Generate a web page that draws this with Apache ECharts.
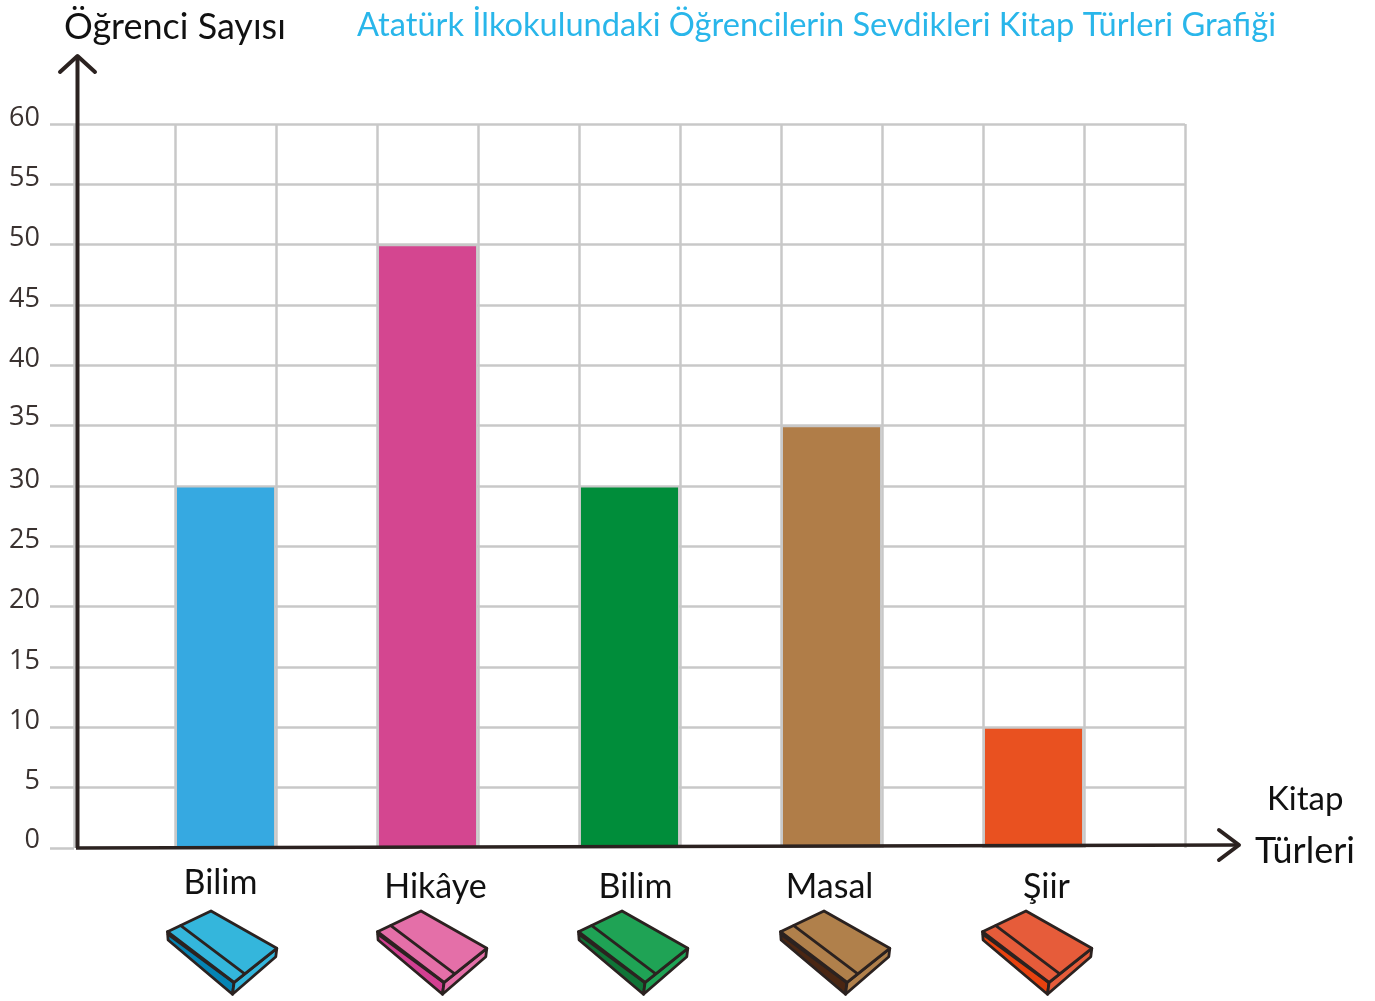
<!DOCTYPE html>
<html><head><meta charset="utf-8">
<style>html,body{margin:0;padding:0;background:#fff}#c{width:1375px;height:1001px}</style>
<script src="https://cdn.jsdelivr.net/npm/echarts@6/dist/echarts.min.js"></script>
</head><body><div id="c"></div>
<script>
const chartTitle = 'Atatürk İlkokulundaki Öğrencilerin Sevdikleri Kitap Türleri Grafiği';
const yName = 'Öğrenci Sayısı';
const xNameLines = ['Kitap', 'Türleri'];
const categories = ['', 'Bilim', '', 'Hikâye', '', 'Bilim', '', 'Masal', '', 'Şiir', ''];
const values = [null, 30, null, 50, null, 30, null, 35, null, 10, null];
const barColors = [null, '#36a9e1', null, '#d44690', null, '#008d3a', null, '#b07d48', null, '#e95120', null];
const coverColors = [null, '#34b6dc', null, '#e46fa8', null, '#1fa355', null, '#b0804b', null, '#e65c3a', null];
const spineColors = [null, '#0584b4', null, '#d33f92', null, '#0f7537', null, '#4a2613', null, '#e8420f', null];

// layout only
const labelShift = [null, [-5, 0], null, [8, 2], null, [6, 2], null, [-2, 2], null, [13, 2], null];
const bookShift = [null, -58, null, -50, null, -51, null, -51, null, -51, null];
const hand = 'Lato,"Liberation Sans",sans-serif';
const ink = '#2b2220', grid = '#c8c8c8';

const chart = echarts.init(document.getElementById('c'), null, {renderer: 'canvas'});

function P(a, ox, oy) { return a.map(p => [p[0] + ox, p[1] + oy]); }
function renderBook(params, api) {
  const i = api.value(0);
  const o = api.coord([i, 0]);
  const ox = o[0] + bookShift[i], oy = o[1] + 63;
  const ln = {stroke: ink, lineWidth: 2.8, lineJoin: 'round', lineCap: 'round'};
  const poly = (pts, fill) => ({type: 'polygon', shape: {points: P(pts, ox, oy)}, style: Object.assign({fill}, ln)});
  const line = (a, b) => ({type: 'line', shape: {x1: a[0]+ox, y1: a[1]+oy, x2: b[0]+ox, y2: b[1]+oy}, style: Object.assign({fill: null}, ln)});
  return {type: 'group', children: [
    poly([[0,20.7],[0.6,29],[65,83.3],[66.6,71.3]], spineColors[i]),
    poly([[66.6,71.3],[65,83.3],[108.3,45.7],[109.3,37.3]], coverColors[i]),
    poly([[43.5,0],[0,20.7],[66.6,71.3],[109.3,37.3]], coverColors[i]),
    line([13.3,14.7],[76.6,62.3]),
    line([0.6,23.3],[66,71.3])
  ]};
}

const bookData = categories.map((c, i) => c ? [i] : null).filter(Boolean);
const handStyle = (color, size) => ({fontFamily: hand, fontSize: size, fontWeight: 'normal', color});

chart.setOption({
  animation: false,
  backgroundColor: '#fff',
  title: [
    {text: chartTitle, left: 357, top: 9, padding: 0, textStyle: handStyle('#29b6ea', 32.6)},
    {text: yName, left: 64, top: 9, padding: 0, textStyle: handStyle('#111', 36)},
    {text: xNameLines[0], left: 1267, top: 783, padding: 0, textStyle: handStyle('#111', 33)},
    {text: xNameLines[1], left: 1255, top: 833, padding: 0, textStyle: handStyle('#111', 36)}
  ],
  grid: {left: 74, top: 124, width: 1111, height: 724, containLabel: false},
  xAxis: {
    type: 'category',
    data: categories.map((c, i) => c ? {value: c, textStyle: {padding: [labelShift[i][1] * 2, labelShift[i][0] < 0 ? -2 * labelShift[i][0] : 0, 0, labelShift[i][0] > 0 ? 2 * labelShift[i][0] : 0]}} : ''),
    boundaryGap: true,
    axisLine: {show: false},
    axisTick: {show: false},
    axisLabel: {interval: 0, margin: 18, fontFamily: hand, fontSize: 34, color: '#111', hideOverlap: false},
    splitLine: {show: true, interval: 0, lineStyle: {color: grid, width: 2.5}}
  },
  yAxis: {
    type: 'value', min: 0, max: 60, interval: 5,
    axisLine: {show: false},
    axisTick: {show: true, length: 24, lineStyle: {color: grid, width: 2.5}},
    axisLabel: {margin: 34, fontFamily: '"Open Sans",sans-serif', fontSize: 27, color: '#3a3230', verticalAlign: 'bottom',
      formatter: v => (v === 0 || v === 35) ? '{b|' + v + '}' : '{a|' + v + '}',
      rich: {a: {lineHeight: 12, fontFamily: '"Open Sans",sans-serif', fontSize: 27, color: '#3a3230'},
             b: {lineHeight: 16, fontFamily: '"Open Sans",sans-serif', fontSize: 27, color: '#3a3230'}}},
    splitLine: {show: true, showMinLine: false, lineStyle: {color: grid, width: 2.5}}
  },
  series: [
    {type: 'bar', barWidth: 100, z: 3,
     data: values.map((v, i) => v == null ? null : {value: v, itemStyle: {color: barColors[i], borderColor: grid, borderWidth: 1.5}})},
    {type: 'custom', renderItem: renderBook, clip: false, z: 4, silent: true, encode: {x: 0}, data: bookData}
  ],
  graphic: [
    {type: 'polyline', z: 100, shape: {points: [[77.5,848],[77.5,58]]}, style: {stroke: ink, lineWidth: 4, fill: null}},
    {type: 'polyline', z: 100, shape: {points: [[60,72],[77.5,56],[95,72]]}, style: {stroke: ink, lineWidth: 4, fill: null, lineCap: 'round', lineJoin: 'round'}},
    {type: 'polyline', z: 100, shape: {points: [[76,848],[1238,845]]}, style: {stroke: ink, lineWidth: 3.5, fill: null}},
    {type: 'polyline', z: 100, shape: {points: [[1219,830],[1239,845],[1219,860]]}, style: {stroke: ink, lineWidth: 4, fill: null, lineCap: 'round', lineJoin: 'round'}}
  ]
});
</script></body></html>
